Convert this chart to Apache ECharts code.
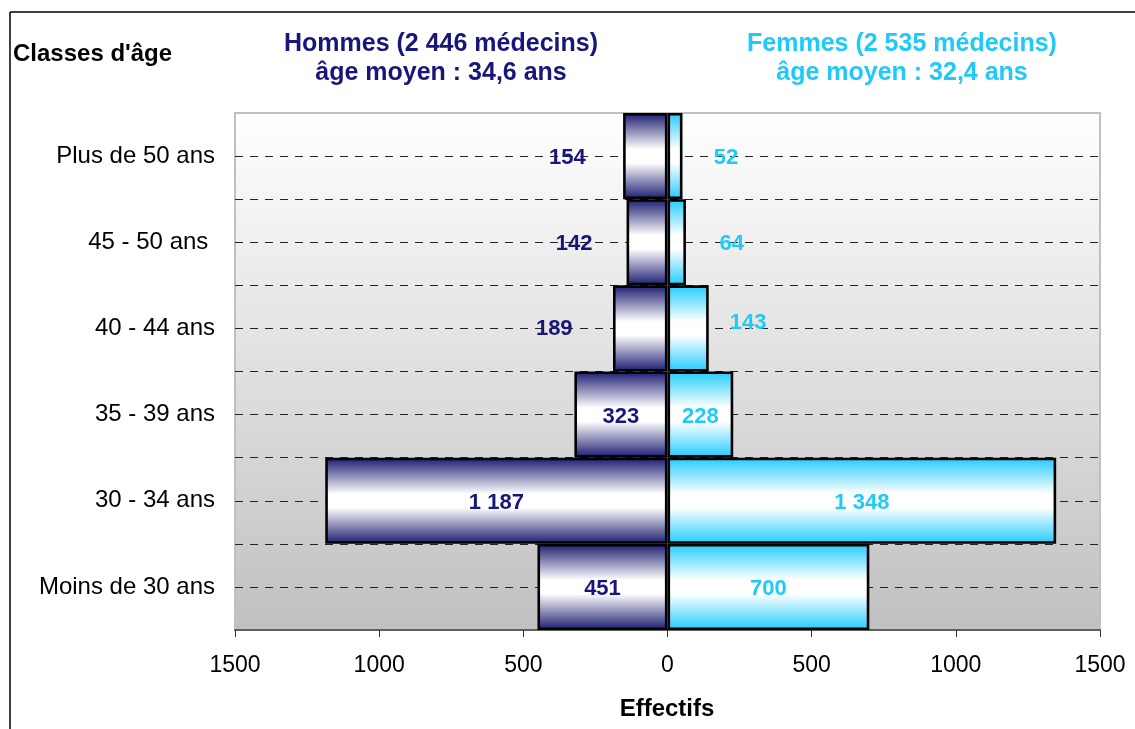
<!DOCTYPE html>
<html>
<head>
<meta charset="utf-8">
<script src="https://cdn.jsdelivr.net/npm/echarts@6/dist/echarts.min.js"></script>
<style>
html,body{margin:0;padding:0;background:#fff;}
#chart{width:1135px;height:729px;}
</style>
</head>
<body>
<div id="chart"></div>
<script>
// ---- data ----
const categories = ['Plus de 50 ans', '45 - 50 ans ', '40 - 44 ans', '35 - 39 ans', '30 - 34 ans', 'Moins de 30 ans'];
const hommes = [154, 142, 189, 323, 1187, 451];
const femmes = [52, 64, 143, 228, 1348, 700];
const xTicks = { min: -1500, max: 1500, interval: 500 };

// label shifts (styling only)
const hommesLabelShift = [[-78, 2], [-73, 2], [-86, 1], [0, 2], [0, 2], [0, 2]];
const femmesLabelShift = [[51, 2], [55, 2], [60, -5], [0, 2], [0, 2], [0, 2]];

const FONT = "'Liberation Sans', Arial, Helvetica, sans-serif";
const NAVY = '#17177a';
const CYAN = '#1fcaf8';

function fmt(v) {
  const s = String(Math.abs(Math.round(v)));
  return s.replace(/\B(?=(\d{3})+(?!\d))/g, ' ');
}

const chart = echarts.init(document.getElementById('chart'), null, { renderer: 'canvas' });

const menGrad = new echarts.graphic.LinearGradient(0, 0, 0, 1, [
  { offset: 0, color: '#1a1a70' },
  { offset: 0.42, color: '#ffffff' },
  { offset: 0.58, color: '#ffffff' },
  { offset: 1, color: '#1a1a70' }
]);
const womenGrad = new echarts.graphic.LinearGradient(0, 0, 0, 1, [
  { offset: 0, color: '#22ccff' },
  { offset: 0.42, color: '#ffffff' },
  { offset: 0.58, color: '#ffffff' },
  { offset: 1, color: '#22ccff' }
]);

const option = {
  animation: false,
  backgroundColor: '#ffffff',
  textStyle: { fontFamily: FONT },
  grid: {
    left: 235, right: 35, top: 113, bottom: 99,
    show: true,
    borderColor: '#c0c0c0',
    borderWidth: 2,
    backgroundColor: new echarts.graphic.LinearGradient(0, 0, 0, 1, [
      { offset: 0, color: '#ffffff' },
      { offset: 1, color: '#c0c0c0' }
    ])
  },
  xAxis: {
    type: 'value',
    min: xTicks.min, max: xTicks.max, interval: xTicks.interval,
    axisLine: { show: true, lineStyle: { color: '#606060', width: 2 } },
    axisTick: { show: true, length: 7, lineStyle: { color: '#333', width: 1 } },
    splitLine: { show: false },
    axisLabel: {
      formatter: v => String(Math.abs(v)),
      fontSize: 23, color: '#000', margin: 24, fontFamily: FONT
    }
  },
  yAxis: [
    {
      type: 'category',
      data: categories,
      inverse: true,
      axisLine: { show: false },
      axisTick: { show: false },
      splitLine: { show: false },
      axisLabel: { fontSize: 24, color: '#000', margin: 20, fontFamily: FONT, padding: [3, 0, 0, 0] }
    },
    {
      type: 'value',
      min: 0, max: 12, interval: 1,
      position: 'right',
      axisLine: { show: false },
      axisTick: { show: false },
      axisLabel: { show: false },
      splitLine: {
        show: true,
        lineStyle: {
          color: ['transparent', '#222', '#222', '#222', '#222', '#222', '#222', '#222', '#222', '#222', '#222', '#222'],
          type: [8, 7], width: 1
        }
      }
    }
  ],
  series: [
    {
      name: 'Hommes',
      type: 'bar',
      stack: 'pyr',
      yAxisIndex: 0,
      barCategoryGap: 0,
      data: hommes.map((v, i) => ({
        value: -v,
        label: { offset: hommesLabelShift[i] }
      })),
      itemStyle: { color: menGrad, borderColor: '#000', borderWidth: 2.6 },
      label: {
        show: true, position: 'inside',
        formatter: p => fmt(p.value),
        color: NAVY, fontSize: 22, fontWeight: 'bold', fontFamily: FONT
      }
    },
    {
      name: 'Femmes',
      type: 'bar',
      stack: 'pyr',
      yAxisIndex: 0,
      barCategoryGap: 0,
      data: femmes.map((v, i) => ({
        value: v,
        label: { offset: femmesLabelShift[i] }
      })),
      itemStyle: { color: womenGrad, borderColor: '#000', borderWidth: 2.6 },
      label: {
        show: true, position: 'inside',
        formatter: p => fmt(p.value),
        color: CYAN, fontSize: 22, fontWeight: 'bold', fontFamily: FONT
      }
    }
  ],
  graphic: [
    { type: 'line', shape: { x1: 10, y1: 12, x2: 1135, y2: 12 }, style: { stroke: '#000', lineWidth: 1.5 } },
    { type: 'line', shape: { x1: 10, y1: 12, x2: 10, y2: 729 }, style: { stroke: '#000', lineWidth: 1.5 } },
    { type: 'text', x: 13, y: 54, style: { text: "Classes d'âge", fill: '#000', font: "bold 24px " + FONT, textAlign: 'left', textVerticalAlign: 'middle' } },
    { type: 'text', x: 441, y: 44, style: { text: 'Hommes (2 446 médecins)', fill: NAVY, font: "bold 25px " + FONT, textAlign: 'center', textVerticalAlign: 'middle' } },
    { type: 'text', x: 441, y: 73, style: { text: 'âge moyen : 34,6 ans', fill: NAVY, font: "bold 25px " + FONT, textAlign: 'center', textVerticalAlign: 'middle' } },
    { type: 'text', x: 902, y: 44, style: { text: 'Femmes (2 535 médecins)', fill: CYAN, font: "bold 25px " + FONT, textAlign: 'center', textVerticalAlign: 'middle' } },
    { type: 'text', x: 902, y: 73, style: { text: 'âge moyen : 32,4 ans', fill: CYAN, font: "bold 25px " + FONT, textAlign: 'center', textVerticalAlign: 'middle' } },
    { type: 'text', x: 667, y: 709, style: { text: 'Effectifs', fill: '#000', font: "bold 24px " + FONT, textAlign: 'center', textVerticalAlign: 'middle' } }
  ]
};

chart.setOption(option);
</script>
</body>
</html>
